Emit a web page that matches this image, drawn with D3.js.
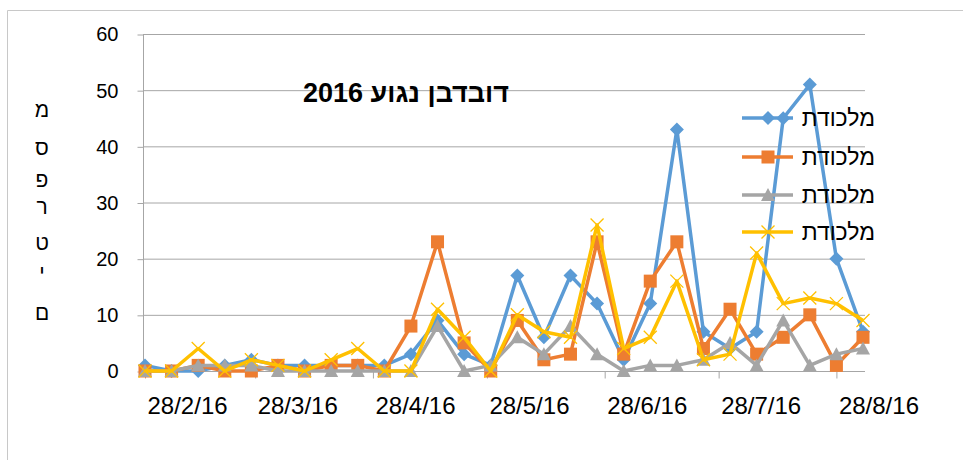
<!DOCTYPE html>
<html>
<head>
<meta charset="utf-8">
<script src="https://cdn.jsdelivr.net/npm/d3@7"></script>
<style>
  body { margin: 0; background: #fff; }
  text { font-family: "Liberation Sans", Arial, sans-serif; }
</style>
</head>
<body>
<svg width="963" height="460"></svg>
<script>
// weekly trap counts, 2016
var dates = ["28/2/16","6/3/16","13/3/16","20/3/16","27/3/16","3/4/16","10/4/16",
  "17/4/16","24/4/16","1/5/16","8/5/16","15/5/16","22/5/16","29/5/16",
  "5/6/16","12/6/16","19/6/16","26/6/16","3/7/16","10/7/16","17/7/16",
  "24/7/16","31/7/16","7/8/16","14/8/16","21/8/16","28/8/16","4/9/16"];
var blue   = [1,0,0,1,2,1,1,1,1,1,3,9,3,1,17,6,17,12,2,12,43,7,4,7,45,51,20,7];
var orange = [0,0,1,0,0,1,0,1,1,0,8,23,5,0,9,2,3,23,3,16,23,4,11,3,6,10,1,6];
var gray   = [0,0,1,1,1,0,0,0,0,0,0,8,0,1,6,3,8,3,0,1,1,2,5,1,9,1,3,4];
var yellow = [0,0,4,0,2,1,0,2,4,0,0,11,6,0,10,7,6,26,4,6,16,2,3,21,12,13,12,9];
var seriesNames = ["מלכודת","מלכודת","מלכודת","מלכודת"];
var xTickLabels = ["28/2/16","28/3/16","28/4/16","28/5/16","28/6/16","28/7/16","28/8/16"];
var yTicks = [0,10,20,30,40,50,60];
var yLabelLetters = ["מ","ס","פ","ר","ט","י","ם"];
var title = "דובדבן נגוע 2016";

var parse = d3.timeParse("%d/%m/%y");
var dateObjs = dates.map(parse);

var svg = d3.select("svg");
var plotLeft = 145, plotRight = 863, plotTop = 34, plotBottom = 371;

// frame
svg.append("path")
  .attr("d", "M7.5,470 V10.5 H970")
  .attr("fill", "none")
  .attr("stroke", "#c8c8c8");

var x = d3.scaleTime()
  .domain([dateObjs[0], dateObjs[dateObjs.length - 1]])
  .range([plotLeft, plotRight]);
var y = d3.scaleLinear().domain([0, 60]).range([plotBottom, plotTop]);

// gridlines
svg.append("g").selectAll("line")
  .data(yTicks.filter(d => d > 0))
  .enter().append("line")
  .attr("x1", plotLeft - 2).attr("x2", plotRight + 2)
  .attr("y1", d => y(d) + 0.5).attr("y2", d => y(d) + 0.5)
  .attr("stroke", "#a6a6a6").attr("stroke-width", 1);

// y axis
var yAxis = svg.append("g").attr("transform", "translate(" + (plotLeft - 1.5) + ",0.5)")
  .call(d3.axisLeft(y).tickValues(yTicks).tickSize(6).tickPadding(19));
yAxis.select(".domain").attr("stroke", "#a6a6a6").attr("d", "M0," + plotTop + "V" + (plotBottom + 1));
yAxis.selectAll(".tick line").attr("stroke", "#a6a6a6");
yAxis.selectAll(".tick text")
  .style("font-family", "'Liberation Sans', Arial, sans-serif")
  .style("font-size", "20px").attr("fill", "#000");

// x axis
var xTickDates = xTickLabels.map(parse);
var xAxis = svg.append("g").attr("transform", "translate(0," + (plotBottom + 0.5) + ")")
  .call(d3.axisBottom(x).tickValues(xTickDates).tickSize(7).tickFormat(d3.timeFormat("%-d/%-m/%y")));
xAxis.select(".domain").attr("stroke", "#a6a6a6").attr("d", "M" + (plotLeft - 2) + ",0H" + (plotRight + 2));
xAxis.selectAll(".tick line").attr("stroke", "#a6a6a6");
xAxis.selectAll(".tick text")
  .attr("text-anchor", "start")
  .attr("x", 2)
  .attr("y", 42)
  .attr("dy", 0)
  .style("font-family", "'Liberation Sans', Arial, sans-serif")
  .style("font-size", "24px").attr("fill", "#000");

// marker shapes
var markers = {
  diamond: function(g) { return g.append("path").attr("d", "M0,-7L7,0L0,7L-7,0Z"); },
  square: function(g) { return g.append("rect").attr("x", -6.5).attr("y", -6.5).attr("width", 13).attr("height", 13); },
  triangle: function(g) { return g.append("path").attr("d", "M0,-7L7,6L-7,6Z"); },
  cross: function(g) { return g.append("path").attr("d", "M-6.5,-6.5L6.5,6.5M-6.5,6.5L6.5,-6.5"); }
};

var series = [
  { values: blue, color: "#5b9bd5", marker: "diamond" },
  { values: orange, color: "#ed7d31", marker: "square" },
  { values: gray, color: "#a5a5a5", marker: "triangle" },
  { values: yellow, color: "#ffc000", marker: "cross" }
];

var line = d3.line().x(d => x(d.date)).y(d => y(d.value));

function styleMarker(shape, s) {
  if (s.marker === "cross") {
    shape.attr("fill", "none").attr("stroke", s.color).attr("stroke-width", 1.3);
  } else {
    shape.attr("fill", s.color);
  }
}

series.forEach(function(s) {
  var pts = s.values.map((v, i) => ({ date: dateObjs[i], value: v }));
  var g = svg.append("g");
  g.append("path").datum(pts)
    .attr("d", line)
    .attr("fill", "none")
    .attr("stroke", s.color)
    .attr("stroke-width", 3.5)
    .attr("stroke-linejoin", "round");
  pts.forEach(function(p) {
    var m = g.append("g").attr("transform", "translate(" + x(p.date) + "," + y(p.value) + ")");
    styleMarker(markers[s.marker](m), s);
  });
});

// legend
var legendY = [118, 157, 195, 232];
series.forEach(function(s, i) {
  var g = svg.append("g").attr("transform", "translate(0," + legendY[i] + ")");
  g.append("line").attr("x1", 742).attr("x2", 793).attr("y1", 0).attr("y2", 0)
    .attr("stroke", s.color).attr("stroke-width", 3.5);
  var m = g.append("g").attr("transform", "translate(768,0)");
  styleMarker(markers[s.marker](m), s);
  g.append("text").attr("x", 875).attr("y", 8)
    .attr("text-anchor", "end")
    .style("font-size", "23px")
    .text(seriesNames[i]);
});

// title
svg.append("text")
  .attr("x", 406).attr("y", 102)
  .attr("text-anchor", "middle")
  .attr("direction", "rtl")
  .style("font-size", "27px")
  .style("font-weight", "bold")
  .text(title);

// y axis title, one letter per row
var letterY = [110, 148, 180, 207, 243, 273, 313];
svg.append("g").selectAll("text")
  .data(yLabelLetters)
  .enter().append("text")
  .attr("x", 42)
  .attr("y", (d, i) => letterY[i])
  .attr("dy", "0.35em")
  .attr("text-anchor", "middle")
  .style("font-size", "21px")
  .text(d => d);
</script>
</body>
</html>
